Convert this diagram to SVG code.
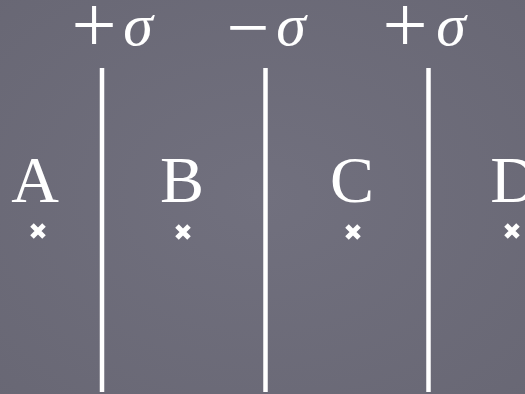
<svg xmlns="http://www.w3.org/2000/svg" width="525" height="394" viewBox="0 0 525 394">
<style>
.t{font-family:"Liberation Serif","DejaVu Serif",serif;fill:#ffffff}
.s{font-style:italic}
.w{stroke:#ffffff;stroke-width:4.5;fill:none}
.x{stroke:#ffffff;stroke-width:5;stroke-linecap:butt;fill:none}
</style>
<defs>
<radialGradient id="bg" cx="50%" cy="50%" r="75%">
<stop offset="0" stop-color="#71707e"/>
<stop offset="1" stop-color="#686774"/>
</radialGradient>
<path id="cross" class="x" d="M-6,-6L6,6M-6,6L6,-6"/>
</defs>
<rect width="525" height="394" fill="url(#bg)"/>
<g id="walls">
<line class="w" x1="102" y1="68" x2="102" y2="392"/>
<line class="w" x1="265.5" y1="68" x2="265.5" y2="392"/>
<line class="w" x1="428.5" y1="68" x2="428.5" y2="392"/>
</g>
<g id="charges">
<text class="t" x="94" y="52" font-size="80" text-anchor="middle">+</text>
<text class="t s" x="138" y="45" font-size="60" text-anchor="middle">σ</text>
<text class="t" x="248" y="53" font-size="76" text-anchor="middle">−</text>
<text class="t s" x="291" y="45" font-size="60" text-anchor="middle">σ</text>
<text class="t" x="405" y="52" font-size="80" text-anchor="middle">+</text>
<text class="t s" x="451" y="45" font-size="60" text-anchor="middle">σ</text>
</g>
<g id="A"><text class="t" x="35" y="202" font-size="66" text-anchor="middle">A</text><use href="#cross" x="38" y="231"/></g>
<g id="B"><text class="t" x="182" y="202" font-size="66" text-anchor="middle">B</text><use href="#cross" x="183" y="232"/></g>
<g id="C"><text class="t" x="352" y="202" font-size="66" text-anchor="middle">C</text><use href="#cross" x="353" y="232"/></g>
<g id="D"><text class="t" x="514" y="202" font-size="66" text-anchor="middle">D</text><use href="#cross" x="512" y="231"/></g>
</svg>
